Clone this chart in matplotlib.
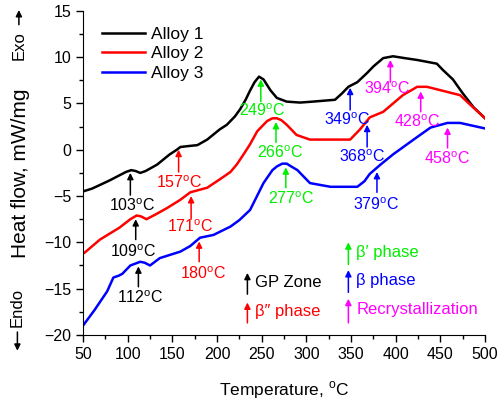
import numpy as np
import matplotlib
matplotlib.use('Agg')
import matplotlib.pyplot as plt
from matplotlib.patches import FancyArrowPatch
from matplotlib.ticker import MultipleLocator

plt.rcParams['font.family'] = ['Liberation Sans', 'DejaVu Sans']
plt.rcParams['mathtext.fontset'] = 'custom'
plt.rcParams['mathtext.rm'] = 'Liberation Sans'

# DSC traces, heat flow (mW/mg) vs temperature (C)
t1 = [50, 60, 69, 80, 90, 98, 104, 109, 114, 120, 133, 147, 155, 159, 168, 178, 189,
      203, 211, 220, 226, 232, 237, 242, 247, 252, 256, 260, 267, 278, 293, 307, 332,
      340, 347, 357, 368, 375, 386, 397, 410, 424, 446, 453, 464, 475, 487, 500]
v1 = [-4.5, -4.2, -3.8, -3.3, -2.8, -2.4, -2.2, -2.3, -2.5, -2.3, -1.6, -0.5, 0.0, 0.3,
      0.4, 0.5, 1.1, 2.2, 2.7, 3.6, 4.4, 5.4, 6.4, 7.3, 7.9, 7.6, 7.0, 6.4, 5.6, 5.2,
      5.1, 5.2, 5.4, 6.1, 6.8, 7.3, 8.3, 9.0, 9.9, 10.1, 9.9, 9.7, 9.3, 8.6, 7.6, 6.1,
      4.6, 3.4]

t2 = [50, 52, 69, 91, 103, 110, 115, 121, 131, 144, 159, 170, 189, 203, 215, 222, 229,
      237, 245, 256, 262, 267, 272, 278, 289, 304, 327, 349, 360, 371, 386, 408, 424,
      435, 472, 483, 500]
v2 = [-11.2, -11.1, -9.7, -8.4, -7.5, -7.1, -7.2, -7.5, -7.0, -6.3, -5.4, -4.6, -4.1,
      -3.2, -2.4, -1.6, -0.6, 0.6, 2.0, 3.1, 3.4, 3.4, 3.2, 2.7, 1.6, 1.1, 1.1, 1.1,
      2.2, 3.5, 4.1, 5.9, 6.8, 6.8, 5.9, 4.9, 3.4]

t3 = [50, 63, 77, 84, 90, 94, 103, 114, 119, 125, 136, 159, 170, 181, 196, 215, 225,
      237, 252, 262, 267, 273, 278, 283, 290, 304, 327, 357, 365, 371, 383, 397, 420,
      439, 458, 472, 500]
v3 = [-19.0, -17.3, -15.3, -13.8, -13.6, -13.4, -12.5, -12.1, -12.2, -12.5, -11.7,
      -11.0, -10.4, -9.5, -9.2, -8.3, -7.6, -6.5, -3.6, -2.2, -1.8, -1.5, -1.5, -1.8,
      -2.2, -3.6, -4.0, -4.0, -3.4, -2.6, -1.6, -0.5, 1.1, 2.4, 2.9, 2.9, 2.3]

alloys = ['Alloy 1', 'Alloy 2', 'Alloy 3']
line_colors = ['black', 'red', 'blue']

# peak markers: temperature, arrow tip, arrow tail, label x, label y
peak_temp = [103, 109, 112, 157, 171, 180, 249, 266, 277, 349, 368, 379, 394, 428, 458]
peak_tip = [-2.5, -7.5, -12.6, 0.0, -5.0, -9.9, 7.6, 3.0, -1.9, 6.7, 2.7, -2.4, 9.7, 6.3, 2.4]
peak_tail = [-4.9, -9.7, -14.8, -2.4, -7.5, -12.1, 5.2, 0.8, -4.1, 4.3, 0.3, -4.6, 7.3, 4.1, 0.2]
label_x = [105, 106, 114, 158, 170, 185, 250, 271, 283, 346, 363, 378, 390, 424, 458]
label_y = [-6.0, -11.0, -16.0, -3.6, -8.3, -13.4, 4.2, -0.3, -5.3, 3.3, -0.8, -5.9, 6.6, 3.0, -1.0]
peak_phase = [0, 0, 0, 1, 1, 1, 2, 2, 2, 3, 3, 3, 4, 4, 4]

phases = ['GP Zone', 'β″ phase', 'β′ phase', 'β phase', 'Recrystallization']
phase_colors = ['black', 'red', '#00ee00', '#0000ff', '#ff00ff']

fig = plt.figure(figsize=(4.97, 4.04), dpi=100)
ax = fig.add_axes([0.167, 0.171, 0.809, 0.802])

for t, v, name, c in zip([t1, t2, t3], [v1, v2, v3], alloys, line_colors):
    ax.plot(t, v, color=c, lw=1.8, label=name, solid_joinstyle='round')

def arrow(x, y0, y1, c):
    ax.annotate('', xy=(x, y1), xytext=(x, y0),
                arrowprops=dict(arrowstyle='-|>', color=c, lw=1.1,
                                mutation_scale=9, shrinkA=0, shrinkB=0))

for i in range(len(peak_temp)):
    c = phase_colors[peak_phase[i]]
    arrow(peak_temp[i], peak_tail[i], peak_tip[i], c)
    ax.text(label_x[i], label_y[i], '%d$^{\\rm o}$C' % peak_temp[i], color=c,
            fontsize=11.5, ha='center', va='center')

# phase key
key_x = [234, 234, 347, 347, 347]
key_y0 = [-15.6, -18.7, -12.4, -15.4, -18.7]
key_y1 = [-13.3, -16.5, -10.0, -13.0, -16.1]
for i in range(5):
    arrow(key_x[i], key_y0[i], key_y1[i], phase_colors[i])
    ax.text(key_x[i] + 9, (key_y0[i] + key_y1[i]) / 2 + 0.1, phases[i],
            color=phase_colors[i], fontsize=12, ha='left', va='center')

ax.set_xlim(50, 500)
ax.set_ylim(-20, 15)
ax.xaxis.set_major_locator(MultipleLocator(50))
ax.xaxis.set_minor_locator(MultipleLocator(25))
ax.yaxis.set_major_locator(MultipleLocator(5))
ax.yaxis.set_minor_locator(MultipleLocator(2.5))
ax.tick_params(which='both', direction='out', labelsize=11.5, width=1)
ax.tick_params(which='major', length=5)
ax.tick_params(which='minor', length=3)
for s in ['top', 'right']:
    ax.spines[s].set_visible(False)

ax.set_xlabel('Temperature, $^{\\rm o}$C', fontsize=12.5, labelpad=13)
ax.set_ylabel('Heat flow, mW/mg', fontsize=15, labelpad=10)

fig.text(0.038, 0.887, 'Exo', rotation=90, fontsize=12, ha='center', va='center')
fig.text(0.035, 0.238, 'Endo', rotation=90, fontsize=12, ha='center', va='center')
fig.add_artist(FancyArrowPatch((0.038, 0.932), (0.038, 0.982), transform=fig.transFigure,
                               arrowstyle='-|>', mutation_scale=9, lw=1.1, color='black'))
fig.add_artist(FancyArrowPatch((0.035, 0.185), (0.035, 0.125), transform=fig.transFigure,
                               arrowstyle='-|>', mutation_scale=9, lw=1.1, color='black'))

ax.legend(loc='upper left', bbox_to_anchor=(0.047, 0.951), frameon=False, fontsize=12.5,
          handlelength=2.5, handletextpad=0.35, labelspacing=0.25, borderpad=0, borderaxespad=0)

fig.savefig('out.png', dpi=100)
